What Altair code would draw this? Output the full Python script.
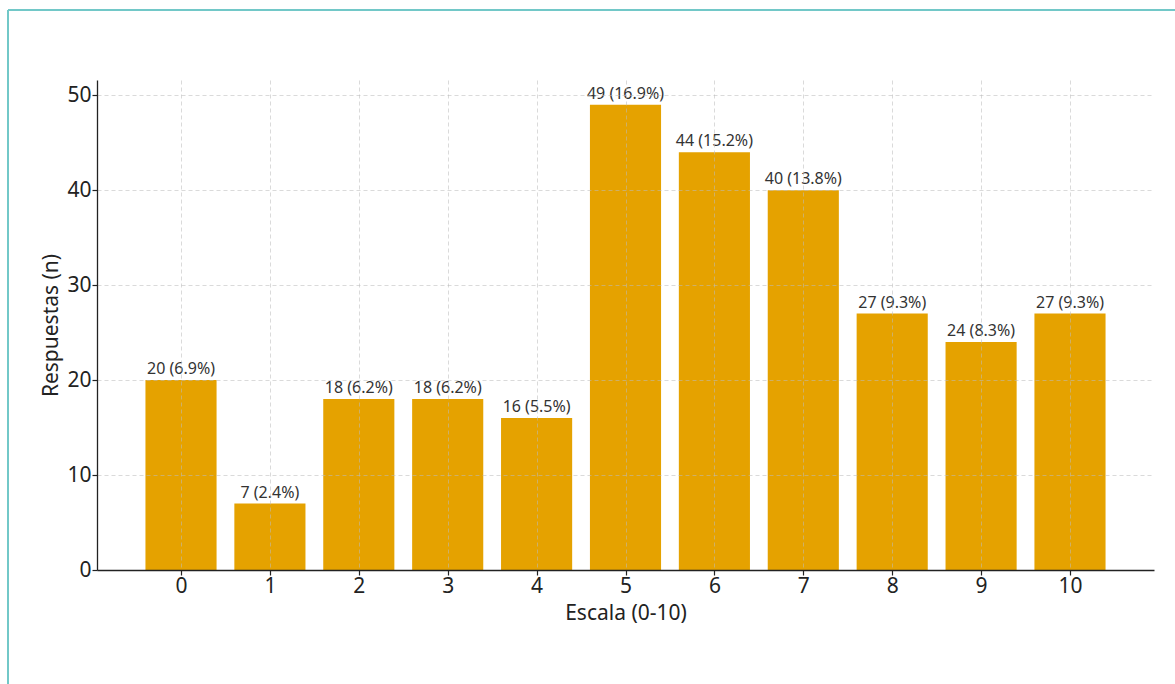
import altair as alt
import pandas as pd

categories = [0, 1, 2, 3, 4, 5, 6, 7, 8, 9, 10]
counts = [20, 7, 18, 18, 16, 49, 44, 40, 27, 24, 27]
labels = ["20 (6.9%)", "7 (2.4%)", "18 (6.2%)", "18 (6.2%)", "16 (5.5%)",
          "49 (16.9%)", "44 (15.2%)", "40 (13.8%)", "27 (9.3%)", "24 (8.3%)", "27 (9.3%)"]
y_ticks = [0, 10, 20, 30, 40, 50]

df = pd.DataFrame({"cat": categories, "n": counts, "label": labels})

FONT = "Noto Sans"
BAR = "#E5A200"

xscale = alt.Scale(domain=[-0.945, 10.945], nice=False, zero=False, padding=0)
yscale = alt.Scale(domain=[0, 51.6], nice=False, padding=0)

base = alt.Chart(df).transform_calculate(
    x0="datum.cat - 0.4", x1="datum.cat + 0.4"
)

bars = base.mark_bar(color=BAR).encode(
    x=alt.X("x0:Q", scale=xscale, title="Escala (0-10)",
            axis=alt.Axis(values=categories, format="d", zindex=1,
                          labelPadding=0, titlePadding=6)),
    x2="x1:Q",
    y=alt.Y("n:Q", scale=yscale, title="Respuestas (n)",
            axis=alt.Axis(values=y_ticks, zindex=1, labelPadding=1, titlePadding=5)),
    y2=alt.datum(0),
)

text = base.mark_text(baseline="bottom", dy=-3, fontSize=16, font=FONT, color="#333333").encode(
    x=alt.X("cat:Q", scale=xscale),
    y=alt.Y("n:Q", scale=yscale),
    text="label:N",
)

frame_top = alt.Chart(df).mark_rule(color="#72C8C8", strokeWidth=2).encode(
    x=alt.value(-89), x2=alt.value(1100), y=alt.value(-70)
)
frame_left = alt.Chart(df).mark_rule(color="#72C8C8", strokeWidth=2).encode(
    x=alt.value(-89), y=alt.value(-70), y2=alt.value(620)
)

chart = alt.layer(bars, text, frame_top, frame_left).properties(
    width=1057, height=490,
    autosize=alt.AutoSizeParams(type="none"),
    padding={"left": 97, "top": 80, "right": 21, "bottom": 114},
).configure_view(stroke=None).configure_axis(
    labelFont=FONT, titleFont=FONT, labelFontSize=21, titleFontSize=21,
    labelColor="#222222", titleColor="#222222", titleFontWeight="normal",
    domainColor="#222222", domainWidth=1.3, tickColor="#222222", tickSize=5, tickWidth=1.2,
    gridColor="#bbbbbb", gridOpacity=0.55, gridDash=[4, 3], gridWidth=1,
)

chart.save("out.html", embed_options={"renderer": "svg", "actions": False})
